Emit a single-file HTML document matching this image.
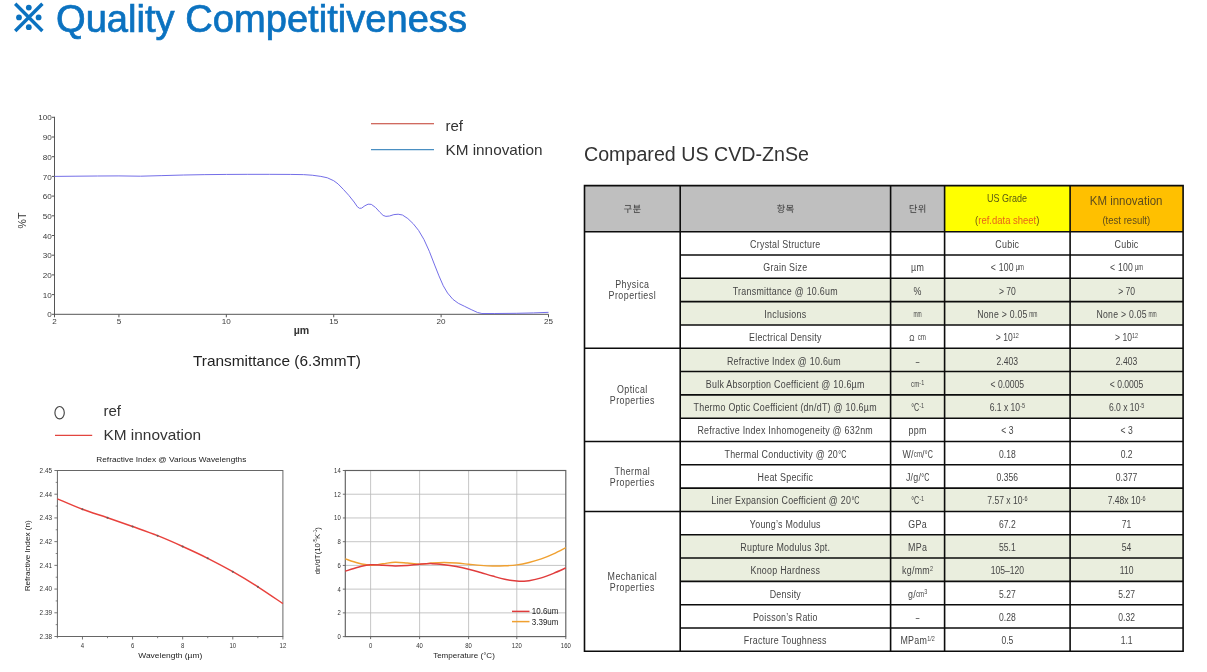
<!DOCTYPE html>
<html><head><meta charset="utf-8"><title>Quality Competitiveness</title>
<style>
html,body{margin:0;padding:0;background:#fff;}
body{width:1207px;height:672px;overflow:hidden;font-family:"Liberation Sans", sans-serif;}
svg{display:block;font-family:"Liberation Sans", sans-serif;will-change:transform;}
text{font-family:"Liberation Sans", sans-serif;}
</style></head><body>
<svg width="1207" height="672" viewBox="0 0 1207 672">
<rect width="1207" height="672" fill="#ffffff"/>
<path d="M15.200000000000001,3.799999999999999L42.4,31.0M42.4,3.799999999999999L15.200000000000001,31.0" stroke="#0b72c0" stroke-width="3.4" stroke-linecap="butt" fill="none"/>
<circle cx="28.8" cy="7.599999999999998" r="2.9" fill="#0b72c0"/>
<circle cx="28.8" cy="27.2" r="2.9" fill="#0b72c0"/>
<circle cx="19.0" cy="17.4" r="2.9" fill="#0b72c0"/>
<circle cx="38.6" cy="17.4" r="2.9" fill="#0b72c0"/>
<text x="56" y="32" font-size="38" fill="#0b72c0" stroke="#0b72c0" stroke-width="0.7" textLength="411" lengthAdjust="spacingAndGlyphs">Quality Competitiveness</text>
<path d="M54.5,116.8V316.90000000000003M54.5,314.3H548.5" fill="none" stroke="#555" stroke-width="1"/>
<path d="M52.0,314.30H54.5" stroke="#555" stroke-width="1"/>
<text x="51.7" y="317.40" font-size="8.1" text-anchor="end" fill="#3a3a3a">0</text>
<path d="M52.0,294.60H54.5" stroke="#555" stroke-width="1"/>
<text x="51.7" y="297.70" font-size="8.1" text-anchor="end" fill="#3a3a3a">10</text>
<path d="M52.0,274.90H54.5" stroke="#555" stroke-width="1"/>
<text x="51.7" y="278.00" font-size="8.1" text-anchor="end" fill="#3a3a3a">20</text>
<path d="M52.0,255.20H54.5" stroke="#555" stroke-width="1"/>
<text x="51.7" y="258.30" font-size="8.1" text-anchor="end" fill="#3a3a3a">30</text>
<path d="M52.0,235.50H54.5" stroke="#555" stroke-width="1"/>
<text x="51.7" y="238.60" font-size="8.1" text-anchor="end" fill="#3a3a3a">40</text>
<path d="M52.0,215.80H54.5" stroke="#555" stroke-width="1"/>
<text x="51.7" y="218.90" font-size="8.1" text-anchor="end" fill="#3a3a3a">50</text>
<path d="M52.0,196.10H54.5" stroke="#555" stroke-width="1"/>
<text x="51.7" y="199.20" font-size="8.1" text-anchor="end" fill="#3a3a3a">60</text>
<path d="M52.0,176.40H54.5" stroke="#555" stroke-width="1"/>
<text x="51.7" y="179.50" font-size="8.1" text-anchor="end" fill="#3a3a3a">70</text>
<path d="M52.0,156.70H54.5" stroke="#555" stroke-width="1"/>
<text x="51.7" y="159.80" font-size="8.1" text-anchor="end" fill="#3a3a3a">80</text>
<path d="M52.0,137.00H54.5" stroke="#555" stroke-width="1"/>
<text x="51.7" y="140.10" font-size="8.1" text-anchor="end" fill="#3a3a3a">90</text>
<path d="M52.0,117.30H54.5" stroke="#555" stroke-width="1"/>
<text x="51.7" y="120.40" font-size="8.1" text-anchor="end" fill="#3a3a3a">100</text>
<path d="M54.50,314.3V317.3" stroke="#555" stroke-width="1"/>
<text x="54.50" y="324.0" font-size="8.1" text-anchor="middle" fill="#3a3a3a">2</text>
<path d="M118.93,314.3V317.3" stroke="#555" stroke-width="1"/>
<text x="118.93" y="324.0" font-size="8.1" text-anchor="middle" fill="#3a3a3a">5</text>
<path d="M226.33,314.3V317.3" stroke="#555" stroke-width="1"/>
<text x="226.33" y="324.0" font-size="8.1" text-anchor="middle" fill="#3a3a3a">10</text>
<path d="M333.72,314.3V317.3" stroke="#555" stroke-width="1"/>
<text x="333.72" y="324.0" font-size="8.1" text-anchor="middle" fill="#3a3a3a">15</text>
<path d="M441.11,314.3V317.3" stroke="#555" stroke-width="1"/>
<text x="441.11" y="324.0" font-size="8.1" text-anchor="middle" fill="#3a3a3a">20</text>
<path d="M548.50,314.3V317.3" stroke="#555" stroke-width="1"/>
<text x="548.50" y="324.0" font-size="8.1" text-anchor="middle" fill="#3a3a3a">25</text>
<text transform="translate(25.8,220.5) rotate(-90)" font-size="10.5" text-anchor="middle" fill="#333">%T</text>
<text x="301.5" y="333.6" font-size="10.6" font-weight="bold" text-anchor="middle" fill="#333">µm</text>
<path d="M54.50,176.40 L75.98,176.20 L97.46,176.01 L118.93,175.91 L140.41,176.20 L161.89,175.61 L183.37,175.02 L204.85,174.63 L226.33,174.43 L247.80,174.33 L269.28,174.33 L290.76,174.43 L303.65,174.63 L312.24,175.22 L320.83,176.40 L327.27,177.78 L333.72,180.73 L338.01,183.89 L343.38,189.40 L348.75,195.31 L354.12,202.01 L357.34,206.74 L359.49,208.31 L361.64,208.12 L364.86,205.75 L368.08,204.18 L371.30,204.37 L375.60,207.53 L379.90,212.25 L383.12,215.41 L385.91,216.39 L389.56,216.00 L393.86,214.62 L398.15,214.22 L402.45,215.01 L407.82,218.56 L413.19,223.68 L418.56,230.38 L423.93,239.44 L429.30,251.26 L434.67,265.05 L438.96,275.88 L443.26,285.74 L447.55,293.02 L452.92,299.33 L458.29,303.27 L464.73,306.42 L471.18,309.57 L477.62,312.53 L481.92,313.51 L494.80,313.51 L516.28,313.31 L533.47,312.92 L548.50,312.33" fill="none" stroke="#746ee8" stroke-width="1" stroke-linejoin="round"/>
<path d="M371,123.7H434" stroke="#c0392b" stroke-width="1.1"/>
<path d="M371,149.6H434" stroke="#4a8fc2" stroke-width="1.1"/>
<text x="445.5" y="131" font-size="15" fill="#333">ref</text>
<text x="445.5" y="155.3" font-size="15" fill="#333" textLength="97" lengthAdjust="spacingAndGlyphs">KM innovation</text>
<text x="277" y="366.3" font-size="15" fill="#222" text-anchor="middle" textLength="168" lengthAdjust="spacingAndGlyphs">Transmittance (6.3mmT)</text>
<rect x="57.4" y="470.5" width="225.49999999999997" height="166.0" fill="#fff" stroke="#666" stroke-width="1"/>
<path d="M54.4,636.50H57.4" stroke="#666" stroke-width="0.9"/>
<text x="52.0" y="638.90" font-size="6.8" text-anchor="end" fill="#333" textLength="12.4" lengthAdjust="spacingAndGlyphs">2.38</text>
<path d="M55.699999999999996,624.64H57.4" stroke="#666" stroke-width="0.8"/>
<path d="M54.4,612.79H57.4" stroke="#666" stroke-width="0.9"/>
<text x="52.0" y="615.19" font-size="6.8" text-anchor="end" fill="#333" textLength="12.4" lengthAdjust="spacingAndGlyphs">2.39</text>
<path d="M55.699999999999996,600.93H57.4" stroke="#666" stroke-width="0.8"/>
<path d="M54.4,589.07H57.4" stroke="#666" stroke-width="0.9"/>
<text x="52.0" y="591.47" font-size="6.8" text-anchor="end" fill="#333" textLength="12.4" lengthAdjust="spacingAndGlyphs">2.40</text>
<path d="M55.699999999999996,577.21H57.4" stroke="#666" stroke-width="0.8"/>
<path d="M54.4,565.36H57.4" stroke="#666" stroke-width="0.9"/>
<text x="52.0" y="567.76" font-size="6.8" text-anchor="end" fill="#333" textLength="12.4" lengthAdjust="spacingAndGlyphs">2.41</text>
<path d="M55.699999999999996,553.50H57.4" stroke="#666" stroke-width="0.8"/>
<path d="M54.4,541.64H57.4" stroke="#666" stroke-width="0.9"/>
<text x="52.0" y="544.04" font-size="6.8" text-anchor="end" fill="#333" textLength="12.4" lengthAdjust="spacingAndGlyphs">2.42</text>
<path d="M55.699999999999996,529.79H57.4" stroke="#666" stroke-width="0.8"/>
<path d="M54.4,517.93H57.4" stroke="#666" stroke-width="0.9"/>
<text x="52.0" y="520.33" font-size="6.8" text-anchor="end" fill="#333" textLength="12.4" lengthAdjust="spacingAndGlyphs">2.43</text>
<path d="M55.699999999999996,506.07H57.4" stroke="#666" stroke-width="0.8"/>
<path d="M54.4,494.21H57.4" stroke="#666" stroke-width="0.9"/>
<text x="52.0" y="496.61" font-size="6.8" text-anchor="end" fill="#333" textLength="12.4" lengthAdjust="spacingAndGlyphs">2.44</text>
<path d="M55.699999999999996,482.36H57.4" stroke="#666" stroke-width="0.8"/>
<path d="M54.4,470.50H57.4" stroke="#666" stroke-width="0.9"/>
<text x="52.0" y="472.90" font-size="6.8" text-anchor="end" fill="#333" textLength="12.4" lengthAdjust="spacingAndGlyphs">2.45</text>
<path d="M57.40,636.5V638.2" stroke="#666" stroke-width="0.8"/>
<path d="M82.46,636.5V639.5" stroke="#666" stroke-width="0.9"/>
<text x="82.46" y="647.7" font-size="6.8" text-anchor="middle" fill="#333" transform="translate(9.89,0) scale(0.88,1)">4</text>
<path d="M107.51,636.5V638.2" stroke="#666" stroke-width="0.8"/>
<path d="M132.57,636.5V639.5" stroke="#666" stroke-width="0.9"/>
<text x="132.57" y="647.7" font-size="6.8" text-anchor="middle" fill="#333" transform="translate(15.91,0) scale(0.88,1)">6</text>
<path d="M157.62,636.5V638.2" stroke="#666" stroke-width="0.8"/>
<path d="M182.68,636.5V639.5" stroke="#666" stroke-width="0.9"/>
<text x="182.68" y="647.7" font-size="6.8" text-anchor="middle" fill="#333" transform="translate(21.92,0) scale(0.88,1)">8</text>
<path d="M207.73,636.5V638.2" stroke="#666" stroke-width="0.8"/>
<path d="M232.79,636.5V639.5" stroke="#666" stroke-width="0.9"/>
<text x="232.79" y="647.7" font-size="6.8" text-anchor="middle" fill="#333" transform="translate(27.93,0) scale(0.88,1)">10</text>
<path d="M257.84,636.5V638.2" stroke="#666" stroke-width="0.8"/>
<path d="M282.90,636.5V639.5" stroke="#666" stroke-width="0.9"/>
<text x="282.90" y="647.7" font-size="6.8" text-anchor="middle" fill="#333" transform="translate(33.95,0) scale(0.88,1)">12</text>
<path d="M57.40,498.80 C61.58,500.55 74.10,506.15 82.46,509.30 C90.81,512.45 99.16,514.83 107.51,517.70 C115.86,520.57 124.21,523.50 132.57,526.50 C140.92,529.50 149.27,532.37 157.62,535.70 C165.97,539.03 174.33,542.73 182.68,546.50 C191.03,550.27 199.38,554.10 207.73,558.30 C216.09,562.50 224.44,566.95 232.79,571.70 C241.14,576.45 249.49,581.48 257.84,586.80 C266.20,592.12 278.72,600.80 282.90,603.60" fill="none" stroke="#e8413c" stroke-width="1.45"/>
<circle cx="82.46" cy="509.30" r="1.05" fill="#6e5a58"/>
<circle cx="107.51" cy="517.70" r="1.05" fill="#6e5a58"/>
<circle cx="132.57" cy="526.50" r="1.05" fill="#6e5a58"/>
<circle cx="157.62" cy="535.70" r="1.05" fill="#6e5a58"/>
<circle cx="182.68" cy="546.50" r="1.05" fill="#6e5a58"/>
<circle cx="207.73" cy="558.30" r="1.05" fill="#6e5a58"/>
<circle cx="232.79" cy="571.70" r="1.05" fill="#6e5a58"/>
<circle cx="257.84" cy="586.80" r="1.05" fill="#6e5a58"/>
<text x="171.3" y="461.9" font-size="7.6" text-anchor="middle" fill="#222" textLength="150" lengthAdjust="spacingAndGlyphs">Refractive Index @ Various Wavelengths</text>
<text transform="translate(29.8,555.8) rotate(-90)" font-size="7.6" text-anchor="middle" fill="#222" textLength="71" lengthAdjust="spacingAndGlyphs">Refractive Index (n)</text>
<text x="170.3" y="658.2" font-size="7.6" text-anchor="middle" fill="#222" textLength="64" lengthAdjust="spacingAndGlyphs">Wavelength (µm)</text>
<ellipse cx="59.6" cy="412.7" rx="4.7" ry="6.2" fill="none" stroke="#444" stroke-width="1.15"/>
<text x="103.5" y="416.3" font-size="15" fill="#333">ref</text>
<path d="M55,435.3H92.2" stroke="#e2453f" stroke-width="1.2"/>
<text x="103.5" y="440.3" font-size="15" fill="#333" textLength="97.5" lengthAdjust="spacingAndGlyphs">KM innovation</text>
<rect x="345.3" y="470.5" width="220.49999999999994" height="166.10000000000002" fill="#fff"/>
<path d="M370.60,470.5V636.6" stroke="#bcbcbc" stroke-width="0.85"/>
<path d="M419.60,470.5V636.6" stroke="#bcbcbc" stroke-width="0.85"/>
<path d="M468.60,470.5V636.6" stroke="#bcbcbc" stroke-width="0.85"/>
<path d="M516.80,470.5V636.6" stroke="#bcbcbc" stroke-width="0.85"/>
<path d="M345.3,612.87H565.8" stroke="#bcbcbc" stroke-width="0.85"/>
<path d="M345.3,589.14H565.8" stroke="#bcbcbc" stroke-width="0.85"/>
<path d="M345.3,565.41H565.8" stroke="#bcbcbc" stroke-width="0.85"/>
<path d="M345.3,541.69H565.8" stroke="#bcbcbc" stroke-width="0.85"/>
<path d="M345.3,517.96H565.8" stroke="#bcbcbc" stroke-width="0.85"/>
<path d="M345.3,494.23H565.8" stroke="#bcbcbc" stroke-width="0.85"/>
<rect x="345.3" y="470.5" width="220.49999999999994" height="166.10000000000002" fill="none" stroke="#606060" stroke-width="1.15"/>
<path d="M342.8,636.60H345.3" stroke="#606060" stroke-width="0.9"/>
<text x="340.7" y="639.10" font-size="6.9" text-anchor="end" fill="#333" transform="translate(47.70,0) scale(0.86,1)">0</text>
<path d="M342.8,612.87H345.3" stroke="#606060" stroke-width="0.9"/>
<text x="340.7" y="615.37" font-size="6.9" text-anchor="end" fill="#333" transform="translate(47.70,0) scale(0.86,1)">2</text>
<path d="M342.8,589.14H345.3" stroke="#606060" stroke-width="0.9"/>
<text x="340.7" y="591.64" font-size="6.9" text-anchor="end" fill="#333" transform="translate(47.70,0) scale(0.86,1)">4</text>
<path d="M342.8,565.41H345.3" stroke="#606060" stroke-width="0.9"/>
<text x="340.7" y="567.91" font-size="6.9" text-anchor="end" fill="#333" transform="translate(47.70,0) scale(0.86,1)">6</text>
<path d="M342.8,541.69H345.3" stroke="#606060" stroke-width="0.9"/>
<text x="340.7" y="544.19" font-size="6.9" text-anchor="end" fill="#333" transform="translate(47.70,0) scale(0.86,1)">8</text>
<path d="M342.8,517.96H345.3" stroke="#606060" stroke-width="0.9"/>
<text x="340.7" y="520.46" font-size="6.9" text-anchor="end" fill="#333" transform="translate(47.70,0) scale(0.86,1)">10</text>
<path d="M342.8,494.23H345.3" stroke="#606060" stroke-width="0.9"/>
<text x="340.7" y="496.73" font-size="6.9" text-anchor="end" fill="#333" transform="translate(47.70,0) scale(0.86,1)">12</text>
<path d="M342.8,470.50H345.3" stroke="#606060" stroke-width="0.9"/>
<text x="340.7" y="473.00" font-size="6.9" text-anchor="end" fill="#333" transform="translate(47.70,0) scale(0.86,1)">14</text>
<path d="M370.60,636.6V639.1" stroke="#606060" stroke-width="0.9"/>
<text x="370.60" y="647.6" font-size="6.9" text-anchor="middle" fill="#333" transform="translate(51.88,0) scale(0.86,1)">0</text>
<path d="M419.60,636.6V639.1" stroke="#606060" stroke-width="0.9"/>
<text x="419.60" y="647.6" font-size="6.9" text-anchor="middle" fill="#333" transform="translate(58.74,0) scale(0.86,1)">40</text>
<path d="M468.60,636.6V639.1" stroke="#606060" stroke-width="0.9"/>
<text x="468.60" y="647.6" font-size="6.9" text-anchor="middle" fill="#333" transform="translate(65.60,0) scale(0.86,1)">80</text>
<path d="M516.80,636.6V639.1" stroke="#606060" stroke-width="0.9"/>
<text x="516.80" y="647.6" font-size="6.9" text-anchor="middle" fill="#333" transform="translate(72.35,0) scale(0.86,1)">120</text>
<path d="M565.80,636.6V639.1" stroke="#606060" stroke-width="0.9"/>
<text x="565.80" y="647.6" font-size="6.9" text-anchor="middle" fill="#333" transform="translate(79.21,0) scale(0.86,1)">160</text>
<path d="M345.30,558.89 C347.41,559.58 353.73,561.99 357.95,563.04 C362.17,564.09 366.45,565.06 370.60,565.18 C374.75,565.30 378.77,564.25 382.85,563.75 C386.93,563.26 391.02,562.33 395.10,562.21 C399.18,562.09 403.27,562.71 407.35,563.04 C411.43,563.38 415.52,564.23 419.60,564.23 C423.68,564.23 427.77,563.34 431.85,563.04 C435.93,562.74 440.02,562.45 444.10,562.45 C448.18,562.45 452.27,562.74 456.35,563.04 C460.43,563.34 464.55,563.83 468.60,564.23 C472.65,564.62 476.63,565.12 480.65,565.41 C484.67,565.71 488.68,565.95 492.70,566.01 C496.72,566.07 500.73,565.97 504.75,565.77 C508.77,565.57 512.75,565.37 516.80,564.82 C520.85,564.27 524.97,563.44 529.05,562.45 C533.13,561.46 537.22,560.33 541.30,558.89 C545.38,557.45 549.47,555.67 553.55,553.79 C557.63,551.91 563.76,548.65 565.80,547.62" fill="none" stroke="#f0a030" stroke-width="1.4"/>
<path d="M345.30,571.23 C347.41,570.56 353.73,568.26 357.95,567.19 C362.17,566.13 366.45,565.16 370.60,564.82 C374.75,564.48 378.77,565.00 382.85,565.18 C386.93,565.35 391.02,565.85 395.10,565.89 C399.18,565.93 403.27,565.69 407.35,565.41 C411.43,565.14 415.52,564.52 419.60,564.23 C423.68,563.93 427.77,563.56 431.85,563.63 C435.93,563.71 440.02,564.21 444.10,564.70 C448.18,565.20 452.27,565.85 456.35,566.60 C460.43,567.35 464.55,568.22 468.60,569.21 C472.65,570.20 476.63,571.39 480.65,572.53 C484.67,573.68 488.68,574.97 492.70,576.09 C496.72,577.22 500.73,578.47 504.75,579.30 C508.77,580.13 513.77,580.74 516.80,581.08 C519.83,581.41 520.88,581.35 522.92,581.31 C524.97,581.27 525.99,581.41 529.05,580.84 C532.11,580.26 537.22,579.12 541.30,577.87 C545.38,576.63 549.47,575.00 553.55,573.36 C557.63,571.72 563.76,568.91 565.80,568.02" fill="none" stroke="#e03c3c" stroke-width="1.5"/>
<path d="M512,611.4H529.5" stroke="#e03c3c" stroke-width="1.5"/>
<path d="M512,621.6H529.5" stroke="#f0a030" stroke-width="1.5"/>
<text x="531.8" y="614.4" font-size="8.3" fill="#222" textLength="26.7" lengthAdjust="spacingAndGlyphs">10.6um</text>
<text x="531.8" y="625" font-size="8.3" fill="#222" textLength="26.7" lengthAdjust="spacingAndGlyphs">3.39um</text>
<text x="464" y="658.2" font-size="7.8" text-anchor="middle" fill="#222" textLength="61.7" lengthAdjust="spacingAndGlyphs">Temperature (°C)</text>
<text transform="translate(320,550.7) rotate(-90)" font-size="7.8" text-anchor="middle" fill="#222">dn/dT(10<tspan font-size="4.6" dy="-3">-5</tspan><tspan dy="3">K</tspan><tspan font-size="4.6" dy="-3">-1</tspan><tspan dy="3">)</tspan></text>
<text x="584" y="161" font-size="19.5" fill="#333" textLength="225" lengthAdjust="spacingAndGlyphs">Compared US CVD-ZnSe</text>
<rect x="584.5" y="185.6" width="360.1" height="46.099999999999994" fill="#bfbfbf"/>
<rect x="944.6" y="185.6" width="125.49999999999989" height="46.099999999999994" fill="#ffff00"/>
<rect x="1070.1" y="185.6" width="113.0" height="46.099999999999994" fill="#ffc000"/>
<rect x="680.2" y="278.32" width="502.89999999999986" height="23.31" fill="#eaeede"/>
<rect x="680.2" y="301.63" width="502.89999999999986" height="23.31" fill="#eaeede"/>
<rect x="680.2" y="348.26" width="502.89999999999986" height="23.31" fill="#eaeede"/>
<rect x="680.2" y="371.57" width="502.89999999999986" height="23.31" fill="#eaeede"/>
<rect x="680.2" y="394.88" width="502.89999999999986" height="23.31" fill="#eaeede"/>
<rect x="680.2" y="488.12" width="502.89999999999986" height="23.31" fill="#eaeede"/>
<rect x="680.2" y="534.74" width="502.89999999999986" height="23.31" fill="#eaeede"/>
<rect x="680.2" y="558.06" width="502.89999999999986" height="23.31" fill="#eaeede"/>
<path d="M584.5,185.6V651.30M680.2,185.6V651.30M890.6,185.6V651.30M944.6,185.6V651.30M1070.1,185.6V651.30M1183.1,185.6V651.30M584.5,185.6H1183.1M584.5,231.7H1183.1M680.2,255.01H1183.1M680.2,278.32H1183.1M680.2,301.63H1183.1M680.2,324.94H1183.1M584.5,348.26H1183.1M680.2,371.57H1183.1M680.2,394.88H1183.1M680.2,418.19H1183.1M584.5,441.50H1183.1M680.2,464.81H1183.1M680.2,488.12H1183.1M584.5,511.43H1183.1M680.2,534.74H1183.1M680.2,558.06H1183.1M680.2,581.37H1183.1M680.2,604.68H1183.1M680.2,627.99H1183.1M584.5,651.30H1183.1" stroke="#0c0c0c" stroke-width="1.6" fill="none" stroke-linecap="square"/>
<path transform="translate(623.64,212.15) scale(0.0092,-0.0092)" d="M50 380V311H415V-79H498V311H867V380H735C760 510 760 604 760 689V768H152V701H678V689C678 605 678 509 650 380Z" fill="#444" stroke="#444" stroke-width="9"/><path transform="translate(632.60,212.15) scale(0.0092,-0.0092)" d="M158 798V436H760V798H678V683H240V798ZM240 619H678V503H240ZM49 349V282H424V107H506V282H869V349ZM153 188V-58H778V10H235V188Z" fill="#444" stroke="#444" stroke-width="9"/>
<path transform="translate(776.69,212.15) scale(0.0092,-0.0092)" d="M468 237C285 237 173 179 173 80C173 -18 285 -76 468 -76C650 -76 762 -18 762 80C762 179 650 237 468 237ZM468 172C600 172 680 139 680 80C680 22 600 -12 468 -12C335 -12 255 22 255 80C255 139 335 172 468 172ZM319 613C189 613 102 550 102 453C102 356 189 294 319 294C448 294 535 356 535 453C535 550 448 613 319 613ZM319 550C401 550 456 512 456 453C456 394 401 357 319 357C237 357 182 394 182 453C182 512 237 550 319 550ZM669 827V244H752V506H885V576H752V827ZM278 834V725H52V659H586V725H361V834Z" fill="#444" stroke="#444" stroke-width="9"/><path transform="translate(785.65,212.15) scale(0.0092,-0.0092)" d="M681 723V549H236V723ZM141 208V141H683V-78H766V208ZM50 369V301H867V369H500V482H762V789H155V482H417V369Z" fill="#444" stroke="#444" stroke-width="9"/>
<path transform="translate(908.89,212.15) scale(0.0092,-0.0092)" d="M669 827V172H752V490H886V559H752V827ZM92 749V332H162C351 332 458 338 583 363L573 431C455 407 353 401 174 401V681H491V749ZM189 238V-58H792V10H271V238Z" fill="#444" stroke="#444" stroke-width="9"/><path transform="translate(917.85,212.15) scale(0.0092,-0.0092)" d="M345 784C211 784 115 709 115 598C115 488 211 412 345 412C480 412 576 488 576 598C576 709 480 784 345 784ZM345 716C434 716 497 668 497 598C497 528 434 481 345 481C258 481 195 528 195 598C195 668 258 716 345 716ZM709 826V-78H791V826ZM59 266C133 266 219 267 309 271V-50H392V276C478 282 565 291 650 307L644 369C446 339 216 336 48 336Z" fill="#444" stroke="#444" stroke-width="9"/>
<text x="1006.9499999999999" y="201.6" font-size="10.3" text-anchor="middle" fill="#5a5a14" textLength="40" lengthAdjust="spacingAndGlyphs">US Grade</text>
<text x="1007.2499999999999" y="223.6" font-size="10.3" text-anchor="middle" fill="#e8641a" textLength="64.3" lengthAdjust="spacingAndGlyphs"><tspan fill="#6a5a10">(</tspan>ref.data sheet<tspan fill="#6a5a10">)</tspan></text>
<text x="1126.1" y="205.3" font-size="11.9" text-anchor="middle" fill="#5f4c1c" textLength="72.7" lengthAdjust="spacingAndGlyphs">KM innovation</text>
<text x="1126.3" y="224" font-size="10.3" text-anchor="middle" fill="#5f4c1c" textLength="47.8" lengthAdjust="spacingAndGlyphs">(test result)</text>
<text transform="translate(750.11,247.96) scale(0.840,1)" font-size="10.6" fill="#454545" letter-spacing="0.3">Crystal Structure</text>
<text transform="translate(995.34,247.96) scale(0.840,1)" font-size="10.6" fill="#454545" letter-spacing="0.3">Cubic</text>
<text transform="translate(1114.59,247.96) scale(0.840,1)" font-size="10.6" fill="#454545" letter-spacing="0.3">Cubic</text>
<text transform="translate(763.36,271.27) scale(0.840,1)" font-size="10.6" fill="#454545" letter-spacing="0.3">Grain Size</text>
<text transform="translate(911.07,271.27) scale(0.840,1)" font-size="10.6" fill="#454545" letter-spacing="0.3">µm</text>
<text transform="translate(990.69,271.27) scale(0.820,1)" font-size="10.6" fill="#454545" letter-spacing="0.3">&lt; 100</text>
<text transform="translate(1015.71,270.37) scale(0.685,1)" font-size="8.6" fill="#454545" letter-spacing="0">µm</text>
<text transform="translate(1109.94,271.27) scale(0.820,1)" font-size="10.6" fill="#454545" letter-spacing="0.3">&lt; 100</text>
<text transform="translate(1134.96,270.37) scale(0.685,1)" font-size="8.6" fill="#454545" letter-spacing="0">µm</text>
<text transform="translate(732.74,294.58) scale(0.840,1)" font-size="10.6" fill="#454545" letter-spacing="0.3">Transmittance @ 10.6um</text>
<text transform="translate(913.52,294.58) scale(0.840,1)" font-size="10.6" fill="#454545" letter-spacing="0.3">%</text>
<text transform="translate(998.88,294.58) scale(0.810,1)" font-size="10.6" fill="#454545" letter-spacing="0.0">&gt; 70</text>
<text transform="translate(1118.13,294.58) scale(0.810,1)" font-size="10.6" fill="#454545" letter-spacing="0.0">&gt; 70</text>
<text transform="translate(764.34,317.89) scale(0.840,1)" font-size="10.6" fill="#454545" letter-spacing="0.3">Inclusions</text>
<text transform="translate(913.45,316.99) scale(0.579,1)" font-size="8.6" fill="#454545" letter-spacing="0">mm</text>
<text transform="translate(977.25,317.89) scale(0.820,1)" font-size="10.6" fill="#454545" letter-spacing="0.3">None &gt; 0.05</text>
<text transform="translate(1029.15,316.99) scale(0.579,1)" font-size="8.6" fill="#454545" letter-spacing="0">mm</text>
<text transform="translate(1096.50,317.89) scale(0.820,1)" font-size="10.6" fill="#454545" letter-spacing="0.3">None &gt; 0.05</text>
<text transform="translate(1148.40,316.99) scale(0.579,1)" font-size="8.6" fill="#454545" letter-spacing="0">mm</text>
<text transform="translate(748.99,341.20) scale(0.840,1)" font-size="10.6" fill="#454545" letter-spacing="0.3">Electrical Density</text>
<text transform="translate(909.22,340.90) scale(0.800,1)" font-size="8.8" fill="#454545" letter-spacing="0">Ω</text>
<text transform="translate(917.68,340.30) scale(0.724,1)" font-size="8.6" fill="#454545" letter-spacing="0">cm</text>
<text transform="translate(995.84,341.20) scale(0.810,1)" font-size="10.6" fill="#454545" letter-spacing="0.0">&gt; 10</text>
<text transform="translate(1012.79,337.90) scale(0.780,1)" font-size="7.0" fill="#454545" letter-spacing="0">12</text>
<text transform="translate(1115.09,341.20) scale(0.810,1)" font-size="10.6" fill="#454545" letter-spacing="0.0">&gt; 10</text>
<text transform="translate(1132.04,337.90) scale(0.780,1)" font-size="7.0" fill="#454545" letter-spacing="0">12</text>
<text transform="translate(726.88,364.51) scale(0.840,1)" font-size="10.6" fill="#454545" letter-spacing="0.3">Refractive Index  @ 10.6um</text>
<text transform="translate(915.68,364.51) scale(0.620,1)" font-size="10.6" fill="#454545" letter-spacing="0.3">–</text>
<text transform="translate(996.61,364.51) scale(0.810,1)" font-size="10.6" fill="#454545" letter-spacing="0.0">2.403</text>
<text transform="translate(1115.86,364.51) scale(0.810,1)" font-size="10.6" fill="#454545" letter-spacing="0.0">2.403</text>
<text transform="translate(705.81,387.82) scale(0.840,1)" font-size="10.6" fill="#454545" letter-spacing="0.3">Bulk Absorption Coefficient @ 10.6µm</text>
<text transform="translate(911.02,386.92) scale(0.724,1)" font-size="8.6" fill="#454545" letter-spacing="0">cm</text>
<text transform="translate(919.32,384.52) scale(0.780,1)" font-size="7.0" fill="#454545" letter-spacing="0">-1</text>
<text transform="translate(990.52,387.82) scale(0.810,1)" font-size="10.6" fill="#454545" letter-spacing="0.0">&lt; 0.0005</text>
<text transform="translate(1109.77,387.82) scale(0.810,1)" font-size="10.6" fill="#454545" letter-spacing="0.0">&lt; 0.0005</text>
<text transform="translate(693.56,411.13) scale(0.840,1)" font-size="10.6" fill="#454545" letter-spacing="0.3">Thermo Optic Coefficient (dn/dT) @ 10.6µm</text>
<text transform="translate(911.17,411.13) scale(0.699,1)" font-size="10.2" fill="#454545" letter-spacing="0">°C</text>
<text transform="translate(919.17,407.83) scale(0.780,1)" font-size="7.0" fill="#454545" letter-spacing="0">-1</text>
<text transform="translate(989.65,411.13) scale(0.810,1)" font-size="10.6" fill="#454545" letter-spacing="0.0">6.1 x 10</text>
<text transform="translate(1020.20,407.83) scale(0.780,1)" font-size="7.0" fill="#454545" letter-spacing="0">-5</text>
<text transform="translate(1108.90,411.13) scale(0.810,1)" font-size="10.6" fill="#454545" letter-spacing="0.0">6.0 x 10</text>
<text transform="translate(1139.45,407.83) scale(0.780,1)" font-size="7.0" fill="#454545" letter-spacing="0">-5</text>
<text transform="translate(697.40,434.44) scale(0.840,1)" font-size="10.6" fill="#454545" letter-spacing="0.3">Refractive Index Inhomogeneity @ 632nm</text>
<text transform="translate(908.56,434.44) scale(0.840,1)" font-size="10.6" fill="#454545" letter-spacing="0.3">ppm</text>
<text transform="translate(1001.26,434.44) scale(0.810,1)" font-size="10.6" fill="#454545" letter-spacing="0.0">&lt; 3</text>
<text transform="translate(1120.51,434.44) scale(0.810,1)" font-size="10.6" fill="#454545" letter-spacing="0.0">&lt; 3</text>
<text transform="translate(724.49,457.76) scale(0.840,1)" font-size="10.6" fill="#454545" letter-spacing="0.3">Thermal Conductivity @ 20</text>
<text transform="translate(838.31,457.76) scale(0.699,1)" font-size="10.2" fill="#454545" letter-spacing="0">°C</text>
<text transform="translate(902.40,457.76) scale(0.840,1)" font-size="10.6" fill="#454545" letter-spacing="0.3">W/</text>
<text transform="translate(913.78,456.86) scale(0.724,1)" font-size="8.6" fill="#454545" letter-spacing="0">cm</text>
<text transform="translate(922.08,457.76) scale(0.840,1)" font-size="10.6" fill="#454545" letter-spacing="0.3">/</text>
<text transform="translate(924.80,457.76) scale(0.699,1)" font-size="10.2" fill="#454545" letter-spacing="0">°C</text>
<text transform="translate(998.99,457.76) scale(0.810,1)" font-size="10.6" fill="#454545" letter-spacing="0.0">0.18</text>
<text transform="translate(1120.63,457.76) scale(0.810,1)" font-size="10.6" fill="#454545" letter-spacing="0.0">0.2</text>
<text transform="translate(757.53,481.07) scale(0.840,1)" font-size="10.6" fill="#454545" letter-spacing="0.3">Heat Specific</text>
<text transform="translate(905.92,481.07) scale(0.840,1)" font-size="10.6" fill="#454545" letter-spacing="0.3">J/g/</text>
<text transform="translate(921.28,481.07) scale(0.699,1)" font-size="10.2" fill="#454545" letter-spacing="0">°C</text>
<text transform="translate(996.61,481.07) scale(0.810,1)" font-size="10.6" fill="#454545" letter-spacing="0.0">0.356</text>
<text transform="translate(1115.86,481.07) scale(0.810,1)" font-size="10.6" fill="#454545" letter-spacing="0.0">0.377</text>
<text transform="translate(711.31,504.38) scale(0.840,1)" font-size="10.6" fill="#454545" letter-spacing="0.3">Liner Expansion Coefficient @ 20</text>
<text transform="translate(851.49,504.38) scale(0.699,1)" font-size="10.2" fill="#454545" letter-spacing="0">°C</text>
<text transform="translate(911.17,504.38) scale(0.699,1)" font-size="10.2" fill="#454545" letter-spacing="0">°C</text>
<text transform="translate(919.17,501.08) scale(0.780,1)" font-size="7.0" fill="#454545" letter-spacing="0">-1</text>
<text transform="translate(987.26,504.38) scale(0.810,1)" font-size="10.6" fill="#454545" letter-spacing="0.0">7.57 x 10</text>
<text transform="translate(1022.59,501.08) scale(0.780,1)" font-size="7.0" fill="#454545" letter-spacing="0">-6</text>
<text transform="translate(1107.70,504.38) scale(0.810,1)" font-size="10.6" fill="#454545" letter-spacing="0.0">7.48x 10</text>
<text transform="translate(1140.64,501.08) scale(0.780,1)" font-size="7.0" fill="#454545" letter-spacing="0">-6</text>
<text transform="translate(749.85,527.69) scale(0.840,1)" font-size="10.6" fill="#454545" letter-spacing="0.3">Young’s Modulus</text>
<text transform="translate(908.31,527.69) scale(0.840,1)" font-size="10.6" fill="#454545" letter-spacing="0.3">GPa</text>
<text transform="translate(998.99,527.69) scale(0.810,1)" font-size="10.6" fill="#454545" letter-spacing="0.0">67.2</text>
<text transform="translate(1121.82,527.69) scale(0.810,1)" font-size="10.6" fill="#454545" letter-spacing="0.0">71</text>
<text transform="translate(740.31,551.00) scale(0.840,1)" font-size="10.6" fill="#454545" letter-spacing="0.3">Rupture Modulus 3pt.</text>
<text transform="translate(908.07,551.00) scale(0.840,1)" font-size="10.6" fill="#454545" letter-spacing="0.3">MPa</text>
<text transform="translate(998.99,551.00) scale(0.810,1)" font-size="10.6" fill="#454545" letter-spacing="0.0">55.1</text>
<text transform="translate(1121.82,551.00) scale(0.810,1)" font-size="10.6" fill="#454545" letter-spacing="0.0">54</text>
<text transform="translate(750.47,574.31) scale(0.840,1)" font-size="10.6" fill="#454545" letter-spacing="0.3">Knoop Hardness</text>
<text transform="translate(902.10,574.31) scale(0.840,1)" font-size="10.6" fill="#454545" letter-spacing="0.3">kg/mm</text>
<text transform="translate(930.07,571.01) scale(0.780,1)" font-size="7.0" fill="#454545" letter-spacing="0">2</text>
<text transform="translate(990.64,574.31) scale(0.810,1)" font-size="10.6" fill="#454545" letter-spacing="0.0">105–120</text>
<text transform="translate(1119.76,574.31) scale(0.810,1)" font-size="10.6" fill="#454545" letter-spacing="0.0">110</text>
<text transform="translate(769.67,597.62) scale(0.840,1)" font-size="10.6" fill="#454545" letter-spacing="0.3">Density</text>
<text transform="translate(907.97,597.62) scale(0.840,1)" font-size="10.6" fill="#454545" letter-spacing="0.3">g/</text>
<text transform="translate(915.90,596.72) scale(0.724,1)" font-size="8.6" fill="#454545" letter-spacing="0">cm</text>
<text transform="translate(924.20,594.32) scale(0.780,1)" font-size="7.0" fill="#454545" letter-spacing="0">3</text>
<text transform="translate(998.99,597.62) scale(0.810,1)" font-size="10.6" fill="#454545" letter-spacing="0.0">5.27</text>
<text transform="translate(1118.24,597.62) scale(0.810,1)" font-size="10.6" fill="#454545" letter-spacing="0.0">5.27</text>
<text transform="translate(752.91,620.93) scale(0.840,1)" font-size="10.6" fill="#454545" letter-spacing="0.3">Poisson’s Ratio</text>
<text transform="translate(915.68,620.93) scale(0.620,1)" font-size="10.6" fill="#454545" letter-spacing="0.3">–</text>
<text transform="translate(998.99,620.93) scale(0.810,1)" font-size="10.6" fill="#454545" letter-spacing="0.0">0.28</text>
<text transform="translate(1118.24,620.93) scale(0.810,1)" font-size="10.6" fill="#454545" letter-spacing="0.0">0.32</text>
<text transform="translate(743.87,644.24) scale(0.840,1)" font-size="10.6" fill="#454545" letter-spacing="0.3">Fracture Toughness</text>
<text transform="translate(900.44,644.24) scale(0.840,1)" font-size="10.6" fill="#454545" letter-spacing="0.3">MPam</text>
<text transform="translate(927.17,640.94) scale(0.780,1)" font-size="7.0" fill="#454545" letter-spacing="0">1/2</text>
<text transform="translate(1001.38,644.24) scale(0.810,1)" font-size="10.6" fill="#454545" letter-spacing="0.0">0.5</text>
<text transform="translate(1120.63,644.24) scale(0.810,1)" font-size="10.6" fill="#454545" letter-spacing="0.0">1.1</text>
<text transform="translate(615.14,288.38) scale(0.840,1)" font-size="10.6" fill="#454545" letter-spacing="0.55">Physica</text>
<text transform="translate(608.53,299.38) scale(0.840,1)" font-size="10.6" fill="#454545" letter-spacing="0.55">Propertiesl</text>
<text transform="translate(616.88,393.28) scale(0.840,1)" font-size="10.6" fill="#454545" letter-spacing="0.55">Optical</text>
<text transform="translate(609.75,404.28) scale(0.840,1)" font-size="10.6" fill="#454545" letter-spacing="0.55">Properties</text>
<text transform="translate(614.41,474.87) scale(0.840,1)" font-size="10.6" fill="#454545" letter-spacing="0.55">Thermal</text>
<text transform="translate(609.75,485.87) scale(0.840,1)" font-size="10.6" fill="#454545" letter-spacing="0.55">Properties</text>
<text transform="translate(607.52,579.77) scale(0.840,1)" font-size="10.6" fill="#454545" letter-spacing="0.55">Mechanical</text>
<text transform="translate(609.75,590.77) scale(0.840,1)" font-size="10.6" fill="#454545" letter-spacing="0.55">Properties</text>
</svg>
</body></html>
